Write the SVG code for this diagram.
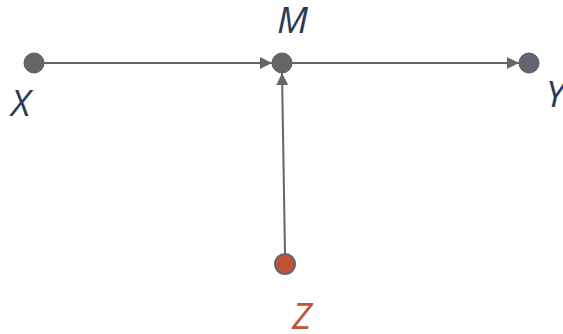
<svg xmlns="http://www.w3.org/2000/svg" width="563" height="334" viewBox="0 0 563 334">
<defs>
<style>
.lbl{font-family:"Open Sans","Liberation Sans",sans-serif;font-style:italic;font-size:37px;fill:#2c3a57}
.edge{stroke:#666;stroke-width:2;fill:none}
.node{stroke:#5a5a5a;stroke-width:1}
</style>
<marker id="arrB" viewBox="0 0 10 10" refX="10" refY="5" markerWidth="12" markerHeight="12" markerUnits="userSpaceOnUse" orient="auto">
<path d="M0,0 L10,5 L0,10 z" fill="#666"/>
</marker>
</defs>
<g id="connectors">
<line class="edge" x1="44" y1="63" x2="272" y2="63" marker-end="url(#arrB)"/>
<line class="edge" x1="292" y1="63" x2="519" y2="63" marker-end="url(#arrB)"/>
<line class="edge" x1="285" y1="254" x2="282" y2="73" marker-end="url(#arrB)"/>
</g>
<g id="X">
<circle class="node" cx="34" cy="63" r="10" fill="#666"/>
<text class="lbl" x="11" y="116">X</text>
</g>
<g id="M">
<circle class="node" cx="282" cy="63" r="10" fill="#666"/>
<text class="lbl" x="277" y="33">M</text>
</g>
<g id="Y">
<circle class="node" cx="529" cy="63" r="10" fill="#5f6670"/>
<text class="lbl" x="546" y="107">Y</text>
</g>
<g id="Z">
<circle cx="285" cy="264" r="10" fill="#c0513a" stroke="#666" stroke-width="2"/>
<text class="lbl" x="292" y="329" style="fill:#c0513a">Z</text>
</g>
</svg>
